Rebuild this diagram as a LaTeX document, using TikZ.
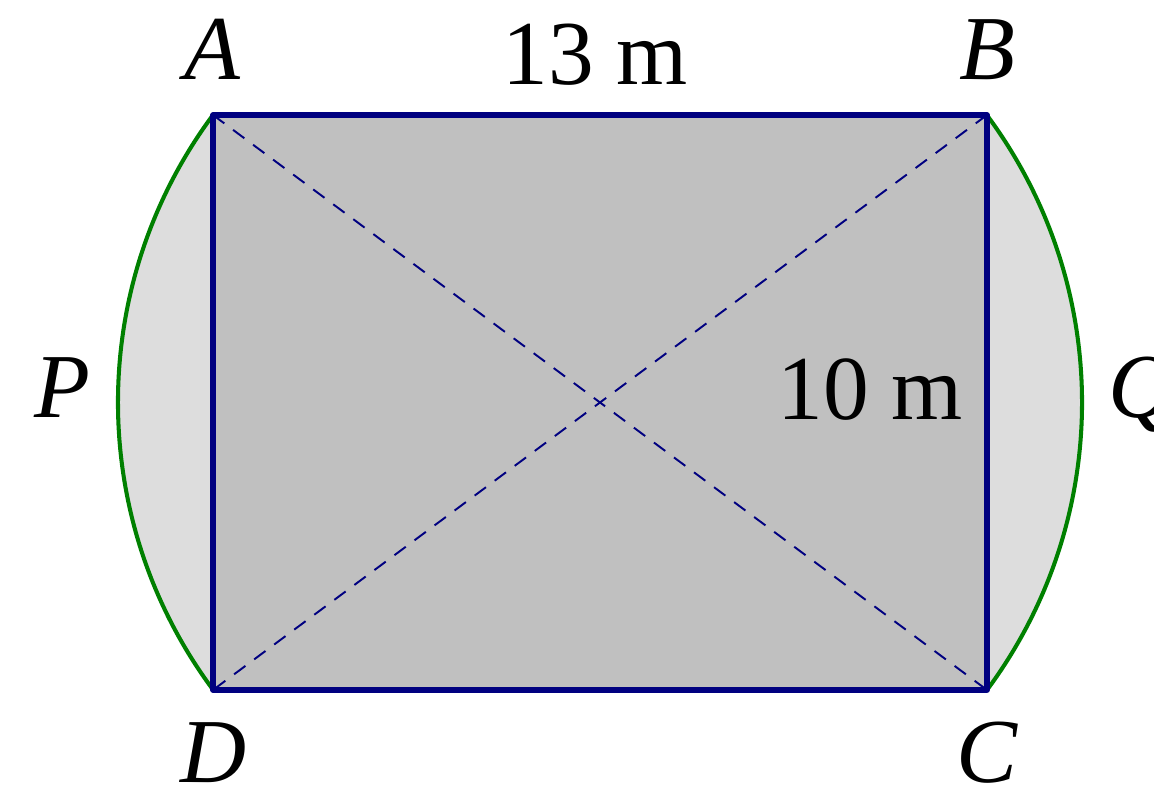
\documentclass[tikz,border=0pt]{standalone}
\usepackage{fontspec}
\setmainfont{Liberation Serif}
\usepackage{xcolor}
\usetikzlibrary{positioning,calc}

\definecolor{rectfill}{RGB}{192,192,192}
\definecolor{segfill}{RGB}{221,221,221}
\definecolor{navyline}{RGB}{0,0,128}
\definecolor{arcgreen}{RGB}{0,128,0}

\begin{document}
\begin{tikzpicture}[
  x=0.01cm, y=0.01cm,
  side/.style={draw=navyline,line width=1.45pt,line join=round},
  diag/.style={draw=navyline,line width=0.55pt,dash pattern=on 4pt off 3.1pt},
  arcline/.style={draw=arcgreen,line width=1.15pt},
  lbl/.style={inner sep=0pt,anchor=base,font=\fontsize{26}{30}\selectfont},
]
\useasboundingbox (0,0) rectangle (1154,792);

% corners and centre
\coordinate (A) at (213,677);
\coordinate (B) at (987,677);
\coordinate (C) at (987,102);
\coordinate (D) at (213,102);
\coordinate (O) at (600,389.5);

% circular segments
\fill[segfill] (A) arc[start angle=143.4,end angle=216.6,radius=482] -- cycle;
\fill[segfill] (C) arc[start angle=-36.6,end angle=36.6,radius=482] -- cycle;
\draw[arcline] (A) arc[start angle=143.4,end angle=216.6,radius=482];
\draw[arcline] (C) arc[start angle=-36.6,end angle=36.6,radius=482];

% rectangle
\fill[rectfill] (A) -- (B) -- (C) -- (D) -- cycle;
\draw[diag] (A) -- (C);
\draw[diag] (B) -- (D);
\draw[side] (A) -- (B) -- (C) -- (D) -- cycle;

% labels
\node[lbl] (la) at (213,712) {\textit{A}};
\node[lbl] (lb) at (987,712) {\textit{B}};
\node[lbl] (lc) at (987,9) {\textit{C}};
\node[lbl] (ld) at (214,9) {\textit{D}};
\node[lbl] (lp) at (62,374) {\textit{P}};
\node[lbl] (lq) at (1142,374) {\textit{Q}};
\node[lbl] (top) at (595,707) {13 m};
\node[lbl] (right) at (870,372) {10 m};
\end{tikzpicture}
\end{document}
